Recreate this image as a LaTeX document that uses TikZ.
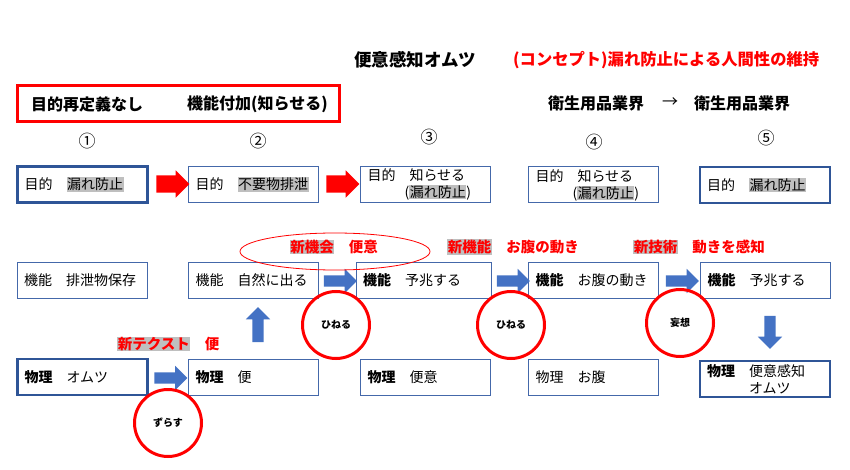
\documentclass[tikz,border=0pt]{standalone}
\usepackage{fontspec}
\setmainfont{Noto Sans CJK JP}
\usetikzlibrary{shapes.geometric,shapes.arrows,calc}
\definecolor{thinblue}{RGB}{68,104,170}
\definecolor{darkblue}{RGB}{47,85,151}
\definecolor{arrowblue}{RGB}{68,114,196}
\definecolor{hlgray}{RGB}{191,191,191}
\definecolor{myred}{RGB}{255,0,0}
\newcommand\hl[1]{{\setlength{\fboxsep}{0.6pt}\colorbox{hlgray}{#1}}}
\begin{document}
\begin{tikzpicture}[x=1pt,y=-1pt,
  box/.style={draw=thinblue, line width=1pt, minimum height=36pt, inner xsep=7pt, inner ysep=0pt, text width=116pt, align=left, font=\fontsize{14}{17}\selectfont},
  thickbox/.style={box, draw=darkblue, line width=2.5pt},
  redarrow/.style={single arrow, fill=myred, draw=none, inner xsep=0pt, inner ysep=8.5pt, single arrow head extend=5pt, minimum height=33pt, minimum width=0pt},
  bluearrow/.style={single arrow, fill=arrowblue, draw=none, inner xsep=0pt, inner ysep=5.5pt, single arrow head extend=6.5pt, minimum height=33pt, minimum width=0pt},
  vbluearrow/.style={single arrow, fill=arrowblue, draw=none, inner sep=5.5pt, single arrow head extend=6.5pt, minimum height=33pt, minimum width=0pt},
  redcircle/.style={circle, draw=myred, line width=3pt, minimum size=67pt, inner sep=0pt, font=\bfseries\fontsize{10}{12}\selectfont},
  redlabel/.style={text=myred, font=\bfseries\fontsize{14.5}{17}\selectfont, inner sep=0pt, anchor=west},
  headline/.style={font=\bfseries\fontsize{16}{19}\selectfont, inner sep=0pt, anchor=west},
  numlabel/.style={font=\fontsize{17}{20}\selectfont, inner sep=0pt}
]
\useasboundingbox (0,0) rectangle (850,470);
\fill[white] (0,0) rectangle (850,470);

% titles
\node[font=\bfseries\fontsize{17.5}{20}\selectfont, inner sep=0pt, anchor=west] (title) at (354,60) {便意感知オムツ};
\node[font=\bfseries\fontsize{16.3}{20}\selectfont, text=myred, inner sep=0pt, anchor=west] (concept) at (513,60) {(コンセプト)漏れ防止による人間性の維持};

% red box
\node[draw=myred, line width=3pt, minimum width=322pt, minimum height=36pt, inner sep=0pt] (rbox) at (178.5,104) {};
\node[headline] (h1) at (31,104) {目的再定義なし};
\node[headline] (h2) at (187,104) {機能付加(知らせる)};
\node[headline] (h3) at (548,103) {衛生用品業界};
\node[font=\fontsize{16}{19}\selectfont, inner sep=0pt] (harr) at (670,103) {→};
\node[headline] (h4) at (694,103) {衛生用品業界};

% numbers
\node[numlabel] (n1) at (87,141) {①};
\node[numlabel] (n2) at (258,141) {②};
\node[numlabel] (n3) at (429,137) {③};
\node[numlabel] (n4) at (594,142) {④};
\node[numlabel] (n5) at (766,138) {⑤};

% row 1
\node[thickbox] (p1) at (82.5,184.5) {目的　\hl{漏れ防止}};
\node[box] (p2) at (253.5,184.5) {目的　\hl{不要物排泄}};
\node[box] (p3) at (425.5,184.5) {目的　知らせる\\\hspace*{37pt}(\hl{漏れ防止})};
\node[box] (p4) at (593.5,185) {目的　知らせる\\\hspace*{37pt}(\hl{漏れ防止})};
\node[thickbox] (p5) at (765,185) {目的　\hl{漏れ防止}};
\node[redarrow] (ra1) at (168.5,184) {};
\node[redarrow] (ra2) at (338.5,184) {};

% row 2
\node[box] (f1) at (82,280.5) {機能　排泄物保存};
\node[box] (f2) at (253.5,280.5) {機能　自然に出る};
\node[box, text width=121pt] (f3) at (423.5,280.5) {\textbf{機能}　予兆する};
\node[box] (f4) at (593.5,280.5) {\textbf{機能}　お腹の動き};
\node[box] (f5) at (765.5,280.5) {\textbf{機能}　予兆する};
\node[bluearrow] (ba1) at (337.5,281) {};
\node[bluearrow] (ba2) at (510.5,281) {};
\node[bluearrow] (ba3) at (679.5,281) {};

% row 3
\node[thickbox] (m1) at (82.5,377) {\textbf{物理}　オムツ};
\node[box] (m2) at (253.5,377) {\textbf{物理}　便};
\node[box] (m3) at (425.5,377) {\textbf{物理}　便意};
\node[box] (m4) at (593.5,377.5) {物理　お腹};
\node[thickbox] (m5) at (765,379) {\textbf{物理}　便意感知\\\hspace*{42pt}オムツ};
\node[bluearrow] (ba4) at (168,378) {};

% vertical arrows
\node[vbluearrow, shape border rotate=90, minimum height=35pt] (up) at (258,327.5) {};
\node[vbluearrow, shape border rotate=270] (down) at (770,329.5) {};

% ellipse and labels
\node[ellipse, draw=myred, line width=0.8pt, minimum width=190pt, minimum height=37pt, inner sep=0pt] (ell) at (335,251.5) {};
\node[redlabel] (l1) at (289.5,247) {\hl{新機会}　便意};
\node[redlabel] (l2) at (447,247) {\hl{新機能}　お腹の動き};
\node[redlabel] (l3) at (633,247) {\hl{新技術}　動きを感知};
\node[redlabel] (l4) at (117,344) {\hl{新テクスト}　便};

% circles
\node[redcircle] (c1) at (336,325) {ひねる};
\node[redcircle] (c2) at (511,325) {ひねる};
\node[redcircle] (c3) at (680,323) {妄想};
\node[redcircle] (c4) at (168,423) {ずらす};
\end{tikzpicture}
\end{document}
